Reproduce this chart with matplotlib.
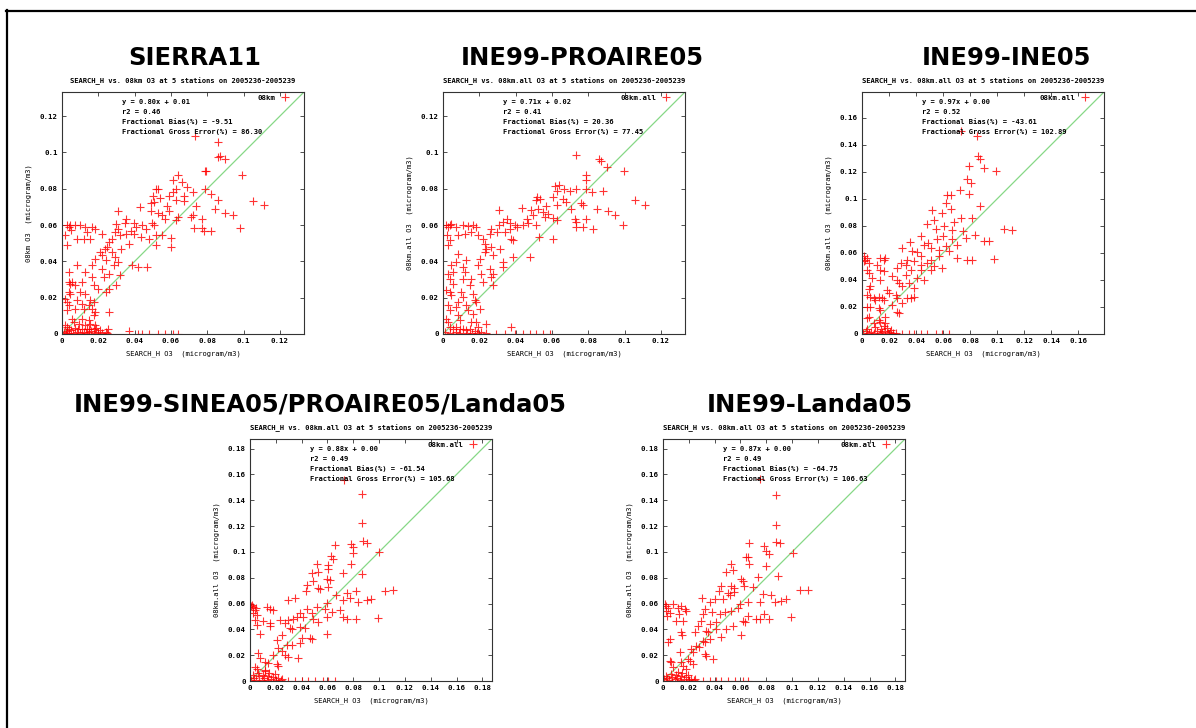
import numpy as np
import matplotlib.pyplot as plt
from matplotlib.lines import Line2D
from matplotlib.ticker import FormatStrFormatter

# Scatter of SEARCH_H observed O3 (x) vs modelled O3 (y), five emission inventories

# --- data (x = SEARCH_H O3, y = model O3, microgram/m3) ---
sierra11_pts = [
    (0.073, 0.109), (0.086, 0.106), (0.086, 0.0975), (0.087, 0.098), (0.090, 0.0966),
    (0.079, 0.090), (0.0795, 0.0896), (0.099, 0.0874), (0.064, 0.0878), (0.061, 0.0847),
    (0.066, 0.084), (0.052, 0.080), (0.053, 0.080), (0.063, 0.080), (0.069, 0.081),
    (0.079, 0.080), (0.072, 0.078), (0.061, 0.078), (0.082, 0.077), (0.067, 0.076),
    (0.059, 0.076), (0.050, 0.076), (0.054, 0.075), (0.063, 0.074), (0.067, 0.073),
    (0.086, 0.074), (0.105, 0.073), (0.111, 0.071), (0.043, 0.070), (0.049, 0.072),
    (0.0505, 0.0727), (0.058, 0.0705), (0.074, 0.0705), (0.0845, 0.069), (0.031, 0.0676),
    (0.049, 0.068), (0.053, 0.0668), (0.059, 0.068), (0.055, 0.0654), (0.064, 0.0645),
    (0.071, 0.0645), (0.057, 0.0635), (0.072, 0.0657), (0.077, 0.0632), (0.090, 0.0668),
    (0.094, 0.0657), (0.0355, 0.0635), (0.0345, 0.0613), (0.0395, 0.0613), (0.044, 0.060),
    (0.0496, 0.0613), (0.0505, 0.060), (0.041, 0.059), (0.046, 0.058), (0.038, 0.057),
    (0.030, 0.0608), (0.031, 0.058), (0.029, 0.056), (0.032, 0.0544), (0.035, 0.0553),
    (0.0395, 0.0553), (0.0437, 0.0534), (0.048, 0.0525), (0.052, 0.0547), (0.055, 0.0544),
    (0.063, 0.0626), (0.0725, 0.0584), (0.077, 0.0584), (0.078, 0.057), (0.082, 0.0566),
    (0.098, 0.0584), (0.060, 0.0529), (0.0257, 0.0507), (0.0248, 0.048), (0.0239, 0.047),
    (0.0275, 0.0525), (0.0367, 0.0498), (0.052, 0.0489), (0.060, 0.048), (0.021, 0.0452),
    (0.022, 0.0433), (0.0275, 0.0452), (0.0327, 0.047), (0.029, 0.0424), (0.018, 0.0415),
    (0.024, 0.0406), (0.0285, 0.0378), (0.031, 0.0397), (0.0386, 0.0378), (0.042, 0.037),
    (0.047, 0.037), (0.0083, 0.0382), (0.0129, 0.0342), (0.0165, 0.0378), (0.022, 0.036),
    (0.0037, 0.0342), (0.032, 0.0323), (0.0257, 0.0332), (0.0037, 0.0286), (0.0046, 0.0277),
    (0.0055, 0.0286), (0.0073, 0.0268), (0.011, 0.0286), (0.0165, 0.0314), (0.023, 0.0314),
    (0.0174, 0.0268), (0.020, 0.025), (0.0037, 0.0231), (0.0046, 0.0222), (0.010, 0.0231),
    (0.0129, 0.0222), (0.024, 0.0231), (0.030, 0.0268), (0.0257, 0.025), (0.0018, 0.0195),
    (0.0028, 0.0176), (0.0037, 0.0158), (0.0083, 0.0185), (0.011, 0.0167), (0.0156, 0.0185),
    (0.0174, 0.0176), (0.0147, 0.0158), (0.0073, 0.014), (0.012, 0.014), (0.0028, 0.013),
    (0.0165, 0.014), (0.018, 0.0121), (0.0174, 0.0103), (0.0257, 0.0121), (0.0055, 0.0084),
    (0.0064, 0.0066), (0.011, 0.0084), (0.0147, 0.0075), (0.0156, 0.0057), (0.0092, 0.0057),
    (0.0018, 0.0048), (0.0028, 0.0039), (0.0037, 0.0026), (0.0129, 0.0048), (0.0138, 0.0029),
    (0.018, 0.0048), (0.0174, 0.0026),
    (0.0028, 0.0599), (0.0037, 0.059), (0.0018, 0.0544), (0.0028, 0.0489), (0.0073, 0.0601),
    (0.0083, 0.0525), (0.0129, 0.059), (0.0138, 0.0562), (0.0165, 0.059), (0.0184, 0.058),
    (0.0156, 0.0525), (0.022, 0.0553), (0.0119, 0.0525), (0.005, 0.0575), (0.0046, 0.0599),
    (0.0101, 0.0598),
    (0.001, 0.001), (0.003, 0.0015), (0.005, 0.002), (0.006, 0.0005), (0.008, 0.001),
    (0.009, 0.0025), (0.010, 0.0005), (0.012, 0.0012), (0.013, 0.0005), (0.015, 0.001),
    (0.016, 0.0018), (0.018, 0.0005), (0.020, 0.001), (0.021, 0.0022), (0.022, 0.0005),
    (0.024, 0.001), (0.025, 0.0005), (0.007, 0.0035), (0.011, 0.003), (0.002, 0.0005),
    (0.004, 0.0008), (0.015, 0.003), (0.019, 0.0033), (0.0255, 0.003), (0.0367, 0.0015),
    (0.042, 0.0), (0.044, 0.0), (0.048, 0.0), (0.053, 0.0), (0.057, 0.0),
    (0.061, 0.0), (0.064, 0.0),
]

proaire05_pts = [
    (0.0735, 0.0988), (0.086, 0.0966), (0.087, 0.0953), (0.0905, 0.092), (0.0997, 0.090),
    (0.079, 0.0878), (0.0786, 0.0847), (0.064, 0.0823), (0.0615, 0.0815), (0.0667, 0.080),
    (0.063, 0.079), (0.070, 0.079), (0.073, 0.080), (0.079, 0.080), (0.082, 0.078),
    (0.088, 0.0786), (0.052, 0.0755), (0.0536, 0.0746), (0.0514, 0.0736), (0.0606, 0.0755),
    (0.066, 0.0746), (0.057, 0.0705), (0.063, 0.0709), (0.0676, 0.0727), (0.0707, 0.069),
    (0.076, 0.072), (0.077, 0.0709), (0.1056, 0.0736), (0.1115, 0.0709), (0.085, 0.069),
    (0.091, 0.068), (0.0946, 0.0657), (0.0437, 0.0694), (0.031, 0.0681), (0.0487, 0.0681),
    (0.0523, 0.0687), (0.055, 0.0672), (0.058, 0.066), (0.0496, 0.0654), (0.046, 0.0635),
    (0.0606, 0.064), (0.063, 0.0626), (0.056, 0.0645), (0.0725, 0.0635), (0.0735, 0.0617),
    (0.079, 0.0635), (0.099, 0.060), (0.0826, 0.058), (0.0735, 0.059), (0.077, 0.059),
    (0.035, 0.0635), (0.0367, 0.061), (0.033, 0.0617), (0.031, 0.060), (0.0395, 0.060),
    (0.041, 0.059), (0.044, 0.060), (0.0468, 0.061), (0.0514, 0.060), (0.0266, 0.058),
    (0.0257, 0.0553), (0.030, 0.056), (0.034, 0.056), (0.0367, 0.058), (0.0376, 0.0525),
    (0.0386, 0.0516), (0.053, 0.0534), (0.0606, 0.0525),
    (0.0018, 0.0599), (0.0028, 0.059), (0.0037, 0.0599), (0.0046, 0.0608), (0.0022, 0.0544),
    (0.0037, 0.0516), (0.0028, 0.0489), (0.0073, 0.059), (0.011, 0.0599), (0.0138, 0.0596),
    (0.0165, 0.0599), (0.0184, 0.059), (0.0119, 0.0553), (0.0156, 0.0562), (0.0193, 0.0544),
    (0.0083, 0.0544), (0.022, 0.0525), (0.023, 0.0498),
    (0.0239, 0.047), (0.023, 0.0452), (0.0266, 0.048), (0.0276, 0.0434), (0.0312, 0.047),
    (0.0331, 0.0397), (0.0386, 0.0424), (0.0478, 0.0424), (0.0202, 0.0415), (0.0193, 0.0378),
    (0.0129, 0.0406), (0.011, 0.0369), (0.0083, 0.0443), (0.0073, 0.0397), (0.0046, 0.0378),
    (0.0055, 0.0342), (0.0257, 0.036), (0.0276, 0.0332), (0.0331, 0.0369), (0.0266, 0.0314),
    (0.0211, 0.0332), (0.022, 0.0287), (0.0119, 0.0342), (0.011, 0.0305), (0.0028, 0.0332),
    (0.0037, 0.0305), (0.0055, 0.0277), (0.0156, 0.0305), (0.0147, 0.0268), (0.0276, 0.0268),
    (0.0018, 0.0241), (0.0037, 0.0231), (0.0046, 0.0213), (0.0101, 0.0231), (0.011, 0.0204),
    (0.0165, 0.0222), (0.0175, 0.0186), (0.0184, 0.0176), (0.0083, 0.0176), (0.0073, 0.0149),
    (0.0028, 0.0158), (0.0037, 0.013), (0.0129, 0.0158), (0.0138, 0.013), (0.0202, 0.014),
    (0.0018, 0.0085), (0.0028, 0.0066), (0.0083, 0.0103), (0.0092, 0.0075), (0.0165, 0.0112),
    (0.0156, 0.0066), (0.0184, 0.0066), (0.0193, 0.0039), (0.0239, 0.0057),
    (0.0037, 0.0039), (0.0055, 0.0029), (0.0073, 0.0039), (0.0092, 0.0026), (0.011, 0.0029),
    (0.0129, 0.002), (0.0147, 0.0026), (0.0175, 0.0015), (0.0211, 0.0011), (0.0239, 0.0007),
    (0.001, 0.001), (0.004, 0.0008), (0.007, 0.0012), (0.009, 0.0005), (0.013, 0.0005),
    (0.016, 0.0008), (0.019, 0.0005), (0.0377, 0.0039),
    (0.0294, 0.0), (0.034, 0.0), (0.0395, 0.0), (0.0441, 0.0), (0.0478, 0.0),
    (0.0514, 0.0), (0.0551, 0.0), (0.0588, 0.0),
]

ine05_pts = [
    (0.073, 0.150), (0.0854, 0.1466), (0.086, 0.132), (0.0874, 0.1297), (0.079, 0.124),
    (0.090, 0.123), (0.099, 0.1206), (0.078, 0.1144), (0.0805, 0.1114), (0.0725, 0.1065),
    (0.063, 0.103), (0.066, 0.1027), (0.079, 0.1037), (0.062, 0.097), (0.052, 0.092),
    (0.0874, 0.095), (0.0594, 0.0896), (0.0656, 0.0926), (0.053, 0.0842), (0.048, 0.0817),
    (0.073, 0.086), (0.0817, 0.086), (0.0545, 0.0777), (0.0607, 0.080), (0.068, 0.0827),
    (0.0668, 0.0772), (0.075, 0.076), (0.1047, 0.0777), (0.1107, 0.0772), (0.0433, 0.0723),
    (0.049, 0.0673), (0.0557, 0.0703), (0.0602, 0.0728), (0.0668, 0.0703), (0.0706, 0.0661),
    (0.0767, 0.071), (0.0834, 0.0735), (0.0899, 0.0686), (0.094, 0.0686), (0.0354, 0.0678),
    (0.0297, 0.0636), (0.0371, 0.0611), (0.0404, 0.0604), (0.0458, 0.0661), (0.0507, 0.0636),
    (0.057, 0.0624), (0.0644, 0.0611), (0.0706, 0.0562), (0.078, 0.055), (0.0817, 0.055),
    (0.0978, 0.0555), (0.0619, 0.0649), (0.057, 0.0574), (0.0507, 0.055), (0.0433, 0.0574),
    (0.0334, 0.055), (0.0384, 0.0537), (0.0285, 0.0525), (0.0322, 0.0512), (0.0433, 0.0512),
    (0.0483, 0.0525), (0.0532, 0.050), (0.0594, 0.0488), (0.026, 0.0488), (0.0359, 0.0475),
    (0.0433, 0.0475), (0.0507, 0.0475), (0.0322, 0.0438), (0.0408, 0.0413), (0.0458, 0.0401),
    (0.0223, 0.0426), (0.026, 0.0401), (0.0272, 0.0376), (0.0347, 0.0376), (0.0297, 0.0352),
    (0.0384, 0.0339), (0.0186, 0.0327), (0.0198, 0.0302), (0.0248, 0.029), (0.026, 0.0265),
    (0.0334, 0.0265), (0.0297, 0.0228), (0.0223, 0.0215), (0.026, 0.0166), (0.0272, 0.0154),
    (0.0359, 0.0265), (0.0384, 0.0277), (0.0149, 0.0265), (0.0161, 0.0248), (0.0124, 0.0191),
    (0.0136, 0.0178), (0.0173, 0.0129),
    (0.0012, 0.0574), (0.0025, 0.055), (0.0037, 0.0562), (0.0012, 0.0537), (0.005, 0.0525),
    (0.0037, 0.0475), (0.005, 0.045), (0.0074, 0.0413), (0.0062, 0.0352), (0.005, 0.0332),
    (0.0037, 0.029), (0.0062, 0.0277), (0.0087, 0.0265), (0.0037, 0.0203), (0.0062, 0.0203),
    (0.0037, 0.0116), (0.005, 0.0129), (0.0136, 0.0562), (0.0161, 0.055), (0.0173, 0.0562),
    (0.0136, 0.0475), (0.0161, 0.0463), (0.0111, 0.0512), (0.0136, 0.0401), (0.0124, 0.0277),
    (0.0099, 0.0253),
    (0.0173, 0.0079), (0.0161, 0.0059), (0.0186, 0.0042), (0.0211, 0.003), (0.0124, 0.0104),
    (0.0136, 0.0091), (0.0087, 0.0079), (0.0099, 0.0054), (0.001, 0.001), (0.003, 0.002),
    (0.005, 0.0005), (0.007, 0.0015), (0.009, 0.0008), (0.011, 0.002), (0.013, 0.0005),
    (0.015, 0.0012), (0.017, 0.0025), (0.019, 0.0008), (0.021, 0.0015), (0.023, 0.0005),
    (0.025, 0.001), (0.004, 0.0035), (0.014, 0.0035),
    (0.0297, 0.0), (0.0347, 0.0), (0.0384, 0.0), (0.0433, 0.0), (0.0483, 0.0),
    (0.0545, 0.0), (0.0594, 0.0), (0.0644, 0.0),
]

sinea05_pts = [
    (0.0727, 0.156), (0.0864, 0.145), (0.0864, 0.1225), (0.0872, 0.1086), (0.0903, 0.107),
    (0.0786, 0.1065), (0.080, 0.104), (0.080, 0.0988), (0.100, 0.100), (0.0658, 0.1057),
    (0.063, 0.0967), (0.0645, 0.0949), (0.0516, 0.0905), (0.0786, 0.091), (0.0606, 0.0897),
    (0.0529, 0.0846), (0.0477, 0.0833), (0.0606, 0.0864), (0.0717, 0.0833), (0.0864, 0.0828),
    (0.0593, 0.0794), (0.0619, 0.0781), (0.049, 0.0776), (0.0529, 0.0717), (0.0542, 0.0709),
    (0.0444, 0.0743), (0.0433, 0.0699), (0.0606, 0.073), (0.1044, 0.0699), (0.1109, 0.0704),
    (0.0297, 0.0627), (0.0348, 0.064), (0.0825, 0.0699), (0.0748, 0.0678), (0.067, 0.0665),
    (0.0717, 0.0627), (0.0774, 0.064), (0.0838, 0.0614), (0.0903, 0.0627), (0.0941, 0.0634),
    (0.0593, 0.0606), (0.0516, 0.0575), (0.058, 0.0554), (0.0632, 0.0536), (0.0696, 0.0549),
    (0.0722, 0.0493), (0.0748, 0.0477), (0.0825, 0.0477), (0.0988, 0.0485), (0.0438, 0.0554),
    (0.0477, 0.0523), (0.0387, 0.0523), (0.0361, 0.0498), (0.0335, 0.0477), (0.0413, 0.0493),
    (0.049, 0.0477), (0.0529, 0.0459), (0.0593, 0.0498), (0.0598, 0.0364), (0.0297, 0.0472),
    (0.0271, 0.0451), (0.0309, 0.0407), (0.0322, 0.04), (0.0387, 0.042), (0.0425, 0.0407),
    (0.0464, 0.033), (0.0477, 0.0322), (0.04, 0.033), (0.0387, 0.0291), (0.0245, 0.0356),
    (0.0206, 0.0317), (0.0284, 0.0278), (0.0322, 0.0278), (0.0219, 0.0253), (0.0245, 0.0235),
    (0.0271, 0.0201), (0.0297, 0.0183), (0.0374, 0.0175), (0.018, 0.0201), (0.0142, 0.0137),
    (0.0116, 0.015), (0.0206, 0.0132), (0.0219, 0.0116),
    (0.0013, 0.0591), (0.0026, 0.0575), (0.0039, 0.0549), (0.0021, 0.0523), (0.0052, 0.0511),
    (0.0039, 0.0472), (0.0052, 0.0433), (0.0077, 0.0364), (0.0129, 0.0575), (0.0155, 0.0554),
    (0.018, 0.0549), (0.0103, 0.0467), (0.0155, 0.0446), (0.0155, 0.0425), (0.0232, 0.0472),
    (0.0064, 0.0214), (0.0077, 0.0175), (0.0039, 0.0111), (0.0052, 0.009), (0.0116, 0.0085),
    (0.001, 0.0583), (0.0045, 0.0566),
    (0.001, 0.001), (0.003, 0.002), (0.005, 0.0005), (0.007, 0.0035), (0.009, 0.001),
    (0.011, 0.0025), (0.013, 0.0005), (0.014, 0.004), (0.016, 0.0015), (0.018, 0.003),
    (0.020, 0.0008), (0.022, 0.002), (0.024, 0.0005), (0.025, 0.0012), (0.006, 0.006),
    (0.010, 0.005), (0.015, 0.0065), (0.019, 0.0055), (0.002, 0.0045), (0.012, 0.0075),
    (0.0297, 0.0), (0.0348, 0.0), (0.04, 0.0), (0.0451, 0.0), (0.0503, 0.0),
    (0.0567, 0.0), (0.0606, 0.0), (0.0658, 0.0),
]

landa05_pts = [
    (0.0748, 0.1563), (0.0877, 0.1439), (0.0877, 0.1207), (0.0877, 0.1078), (0.0908, 0.1073),
    (0.067, 0.1073), (0.0786, 0.1047), (0.080, 0.1008), (0.082, 0.0982), (0.1006, 0.099),
    (0.089, 0.0815), (0.064, 0.0957), (0.0658, 0.0957), (0.0529, 0.0905), (0.049, 0.0846),
    (0.0542, 0.0861), (0.0665, 0.0905), (0.080, 0.0892), (0.0606, 0.0794), (0.0619, 0.0776),
    (0.0735, 0.0802), (0.0451, 0.0737), (0.0529, 0.0737), (0.0547, 0.0717), (0.0624, 0.0737),
    (0.0696, 0.0732), (0.0433, 0.0699), (0.0503, 0.0681), (0.0516, 0.0665), (0.0547, 0.0686),
    (0.0774, 0.0673), (0.0838, 0.0665), (0.1065, 0.0704), (0.1127, 0.0707), (0.0304, 0.064),
    (0.0361, 0.0614), (0.04, 0.0634), (0.0464, 0.0634), (0.0593, 0.0596), (0.0658, 0.0609),
    (0.0753, 0.0609), (0.0864, 0.0614), (0.0915, 0.0622), (0.0954, 0.0634), (0.058, 0.0562),
    (0.0529, 0.0544), (0.0477, 0.0531), (0.0438, 0.0518), (0.0382, 0.0531), (0.0322, 0.0557),
    (0.0309, 0.0518), (0.0658, 0.0505), (0.0722, 0.048), (0.0748, 0.048), (0.0825, 0.048),
    (0.0993, 0.0493), (0.0619, 0.0467), (0.0632, 0.0454), (0.0786, 0.0518), (0.0413, 0.0459),
    (0.0361, 0.0441), (0.0297, 0.0467), (0.0271, 0.0428), (0.0335, 0.0389), (0.0348, 0.0376),
    (0.0413, 0.0402), (0.049, 0.0402), (0.0542, 0.0428), (0.0606, 0.0356), (0.0245, 0.0376),
    (0.0309, 0.0312), (0.0322, 0.0299), (0.0361, 0.0325), (0.0451, 0.0338), (0.0258, 0.0273),
    (0.0278, 0.026), (0.0219, 0.0248), (0.0232, 0.0222), (0.0322, 0.0209), (0.033, 0.0191),
    (0.0387, 0.017), (0.0129, 0.0222), (0.0193, 0.017), (0.0206, 0.0157), (0.0142, 0.015),
    (0.0155, 0.0119), (0.0232, 0.0132),
    (0.0013, 0.0594), (0.0026, 0.0581), (0.0039, 0.0568), (0.0021, 0.0542), (0.0052, 0.0529),
    (0.0031, 0.0505), (0.0077, 0.0594), (0.0116, 0.0568), (0.0142, 0.0581), (0.0168, 0.0555),
    (0.018, 0.0542), (0.0124, 0.0518), (0.0103, 0.0467), (0.0155, 0.0467), (0.0142, 0.0376),
    (0.015, 0.0356), (0.0052, 0.0325), (0.0039, 0.0299), (0.0052, 0.0157), (0.0064, 0.0144),
    (0.0077, 0.0106), (0.018, 0.0093),
    (0.001, 0.0012), (0.003, 0.0025), (0.005, 0.0008), (0.007, 0.003), (0.009, 0.0012),
    (0.011, 0.002), (0.013, 0.0005), (0.014, 0.0038), (0.016, 0.0012), (0.018, 0.0028),
    (0.020, 0.0006), (0.022, 0.0018), (0.024, 0.0005), (0.025, 0.0015), (0.006, 0.0055),
    (0.010, 0.0048), (0.015, 0.006), (0.019, 0.005), (0.002, 0.004), (0.012, 0.007),
    (0.0309, 0.0), (0.0361, 0.0), (0.0413, 0.0), (0.0451, 0.0), (0.0503, 0.0),
    (0.0554, 0.0), (0.0619, 0.0), (0.0658, 0.0),
]

titles = ['SIERRA11', 'INE99-PROAIRE05', 'INE99-INE05',
          'INE99-SINEA05/PROAIRE05/Landa05', 'INE99-Landa05']
models = ['08km', '08km.all', '08km.all', '08km.all', '08km.all']
stats = [
    ['y = 0.80x + 0.01', 'r2 = 0.46', 'Fractional Bias(%) = -9.51', 'Fractional Gross Error(%) = 86.30'],
    ['y = 0.71x + 0.02', 'r2 = 0.41', 'Fractional Bias(%) = 20.36', 'Fractional Gross Error(%) = 77.45'],
    ['y = 0.97x + 0.00', 'r2 = 0.52', 'Fractional Bias(%) = -43.61', 'Fractional Gross Error(%) = 102.89'],
    ['y = 0.88x + 0.00', 'r2 = 0.49', 'Fractional Bias(%) = -61.54', 'Fractional Gross Error(%) = 105.68'],
    ['y = 0.87x + 0.00', 'r2 = 0.49', 'Fractional Bias(%) = -64.75', 'Fractional Gross Error(%) = 106.63'],
]
axis_max = [0.1333, 0.1333, 0.179, 0.1875, 0.1875]
tick_top = [0.12, 0.12, 0.16, 0.18, 0.18]
all_pts = [sierra11_pts, proaire05_pts, ine05_pts, sinea05_pts, landa05_pts]

# layout in pixels: axes left/top, title centre x / baseline y
W, H = 1196, 728
SIDE = 242
axes_px = [(62, 92), (443, 92), (862, 92), (250, 439), (663, 439)]
title_px = [(195, 65), (582, 65), (1006, 65), (320, 412), (810, 412)]

plt.rcParams['font.family'] = 'DejaVu Sans Mono'
plt.rcParams['font.weight'] = 'bold'

fig = plt.figure(figsize=(W / 100, H / 100), dpi=100)

# slide frame (top and left rule)
fig.add_artist(Line2D([6 / W, 1.0], [1 - 11 / H, 1 - 11 / H], transform=fig.transFigure,
                      color='black', lw=1.6))
fig.add_artist(Line2D([7 / W, 7 / W], [0.0, 1 - 10 / H], transform=fig.transFigure,
                      color='black', lw=1.6))

for i in range(5):
    left, top = axes_px[i]
    ax = fig.add_axes([left / W, 1 - (top + SIDE) / H, SIDE / W, SIDE / H])
    x, y = np.array(all_pts[i]).T
    lim = axis_max[i]

    ax.plot([0, lim], [0, lim], color='#86d886', lw=0.9, zorder=1)
    ax.plot(x, y, '+', color='red', ms=5.5, mew=0.8, alpha=0.8, label=models[i], zorder=2)

    ax.set_xlim(0, lim)
    ax.set_ylim(0, lim)
    ticks = np.arange(0, tick_top[i] + 0.001, 0.02)
    ax.set_xticks(ticks)
    ax.set_yticks(ticks)
    ax.xaxis.set_major_formatter(FormatStrFormatter('%g'))
    ax.yaxis.set_major_formatter(FormatStrFormatter('%g'))
    ax.tick_params(direction='in', top=True, right=True, length=3, width=0.6,
                   color='#333333', labelsize=5.3, pad=3)
    for sp in ax.spines.values():
        sp.set_color('#333333')
        sp.set_linewidth(0.8)

    # gnuplot style labels
    ax.set_xlabel('SEARCH_H O3  (microgram/m3)', fontsize=5.1)
    ax.set_ylabel(models[i] + ' O3  (microgram/m3)', fontsize=5.1)
    ax.xaxis.set_label_coords(0.5, -20 / SIDE)
    ax.yaxis.set_label_coords(-33 / SIDE, 0.5)
    ax.xaxis.label.set_va('center')
    ax.yaxis.label.set_va('center')

    ax.text(0.5, 1 + 11 / SIDE,
            'SEARCH_H vs. ' + models[i] + ' O3 at 5 stations on 2005236-2005239',
            transform=ax.transAxes, ha='center', va='center', fontsize=5.1)
    for k, line in enumerate(stats[i]):
        ax.text(0.248, 0.959 - k * 0.041, line, transform=ax.transAxes,
                ha='left', va='center', fontsize=5.1)

    ax.legend(loc='upper right', bbox_to_anchor=(0.96, 1.01), frameon=False,
              markerfirst=False, handlelength=1.2, handletextpad=0.6,
              fontsize=5.3, borderaxespad=0.3)

    tx, ty = title_px[i]
    fig.text(tx / W, 1 - ty / H, titles[i], ha='center', va='baseline',
             family='DejaVu Sans', fontweight='bold', fontsize=17.5)

fig.savefig('out.png', dpi=100)
